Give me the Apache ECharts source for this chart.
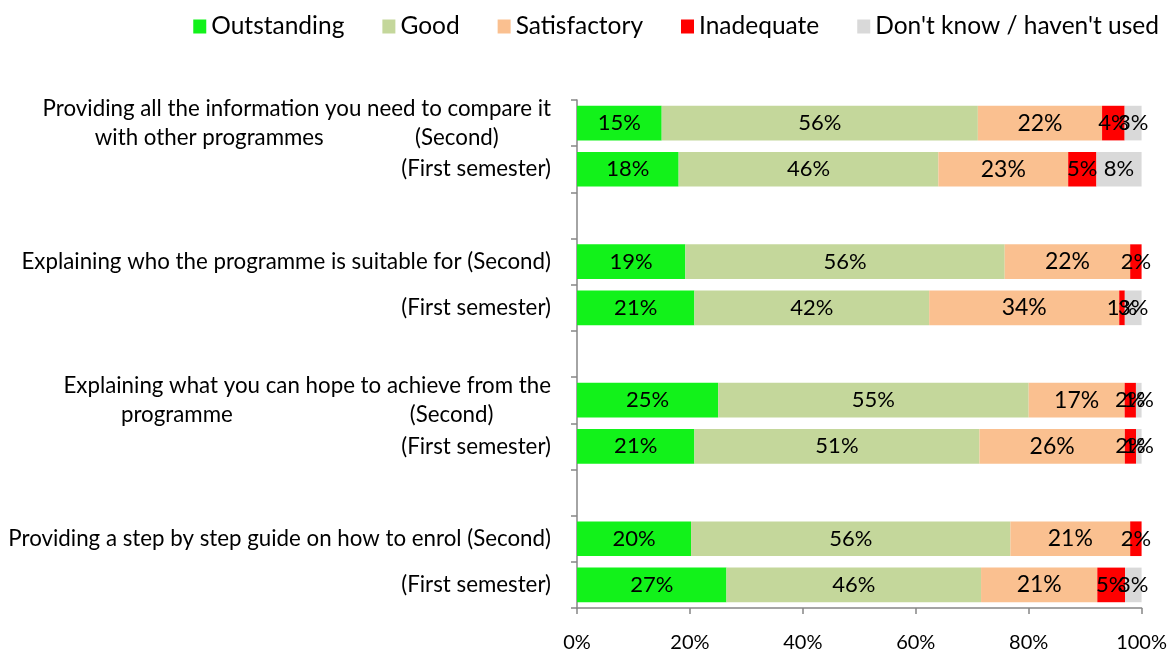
<!DOCTYPE html>
<html>
<head>
<meta charset="utf-8">
<script src="https://cdn.jsdelivr.net/npm/echarts@6/dist/echarts.min.js"></script>
<style>
  html, body { margin: 0; padding: 0; background: #ffffff; }
  #chart { width: 1170px; height: 653px; }
</style>
</head>
<body>
<div id="chart"></div>
<script>
// categories top to bottom, blank ones are the gaps between questions
var categories = [
  'Providing all the information you need to compare it\nwith other programmes                (Second)',
  '(First semester)',
  '',
  'Explaining who the programme is suitable for (Second)',
  '(First semester)',
  '',
  'Explaining what you can hope to achieve from the\nprogramme                               (Second)',
  '(First semester)',
  '',
  'Providing a step by step guide on how to enrol (Second)',
  '(First semester)'
]
var seriesNames = ['Outstanding', 'Good', 'Satisfactory', 'Inadequate', "Don't know / haven't used"]
var outstanding = [15, 18, null, 19, 21, null, 25, 21, null, 20, 27]
var good = [56, 46, null, 56, 42, null, 55, 51, null, 56, 46]
var satisfactory = [22, 23, null, 22, 34, null, 17, 26, null, 21, 21]
var inadequate = [4, 5, null, 2, 1, null, 2, 2, null, 2, 5]
var dontKnow = [3, 8, null, null, 3, null, 1, 1, null, null, 3]
var xTicks = [0, 20, 40, 60, 80, 100]

var colors = ['#12F21A', '#C4D79B', '#FAC090', '#FF0000', '#D9D9D9']
var raw = [outstanding, good, satisfactory, inadequate, dontKnow]

// 100% stacked: each row is scaled to its own total
var totals = categories.map(function (c, i) {
  var s = 0
  raw.forEach(function (arr) { s += arr[i] || 0 })
  return s
})

var font = 'Lato'

var myChart = echarts.init(document.getElementById('chart'))
myChart.setOption({
  animation: false,
  color: colors,
  textStyle: { fontFamily: font },
  legend: {
    data: seriesNames,
    right: 6,
    top: 9,
    icon: 'rect',
    itemWidth: 13,
    itemHeight: 14,
    itemGap: 38,
    textStyle: { fontSize: 24.5, color: '#000000', fontFamily: font }
  },
  grid: {
    left: 577,
    right: 26,
    top: 100,
    bottom: 43
  },
  xAxis: {
    type: 'value',
    min: xTicks[0],
    max: xTicks[xTicks.length - 1],
    interval: 20,
    splitLine: { show: false },
    axisLine: { show: true, lineStyle: { color: '#868686', width: 1.5 } },
    axisTick: { show: true, length: 6, lineStyle: { color: '#868686', width: 1.5 } },
    axisLabel: {
      margin: 25,
      fontSize: 20,
      color: '#000000',
      fontFamily: font,
      formatter: '{value}%'
    }
  },
  yAxis: {
    type: 'category',
    inverse: true,
    data: categories,
    axisLine: { show: true, lineStyle: { color: '#868686', width: 1.5 } },
    axisTick: { show: true, length: 6, interval: 0, lineStyle: { color: '#868686', width: 1.5 } },
    axisLabel: {
      interval: 0,
      margin: 26,
      color: '#000000',
      fontFamily: font,
      fontSize: 22.3,
      formatter: function (value) {
        if (!value) return ''
        return value.split('\n').map(function (line) {
          return '{c|' + line + '}'
        }).join('\n')
      },
      rich: {
        c: { align: 'center', fontSize: 22.3, fontFamily: font, color: '#000000', lineHeight: 29 }
      }
    }
  },
  series: raw.map(function (arr, si) {
    return {
      name: seriesNames[si],
      type: 'bar',
      stack: 'total',
      barCategoryGap: '25%',
      data: arr.map(function (v, i) {
        return v == null ? null : v / totals[i] * 100
      }),
      label: {
        show: true,
        position: 'inside',
        color: '#000000',
        fontFamily: font,
        fontSize: si === 2 ? 23 : 22,
        formatter: function (p) {
          return raw[p.seriesIndex][p.dataIndex] + '%'
        }
      }
    }
  })
})
</script>
</body>
</html>
